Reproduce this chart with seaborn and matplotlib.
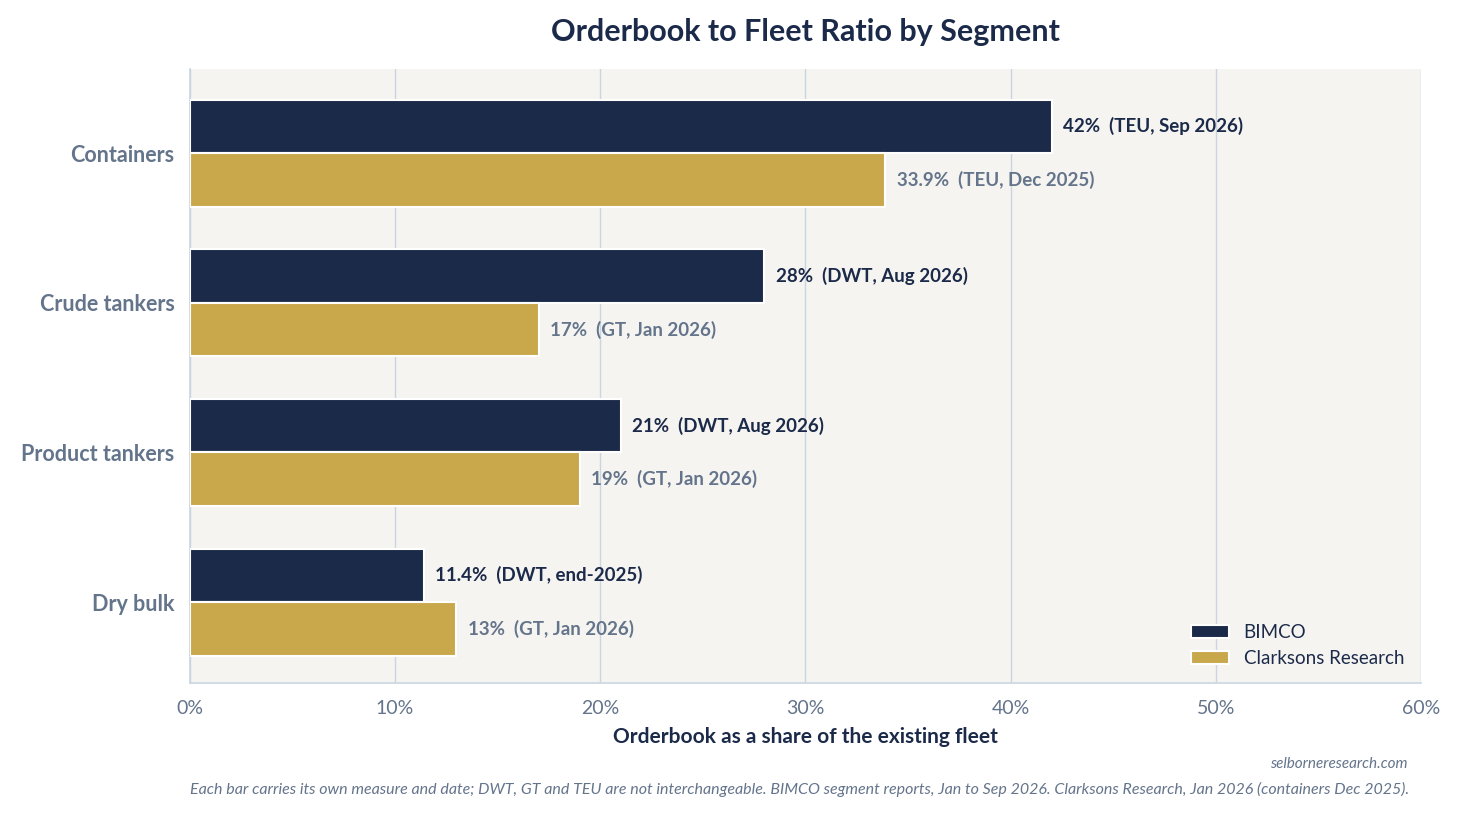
import pandas as pd
import matplotlib.pyplot as plt
import seaborn as sns

# chart values
segments = ['Containers', 'Crude tankers', 'Product tankers', 'Dry bulk']
bimco = [42, 28, 21, 11.4]
clarksons = [33.9, 17, 19, 13]
bimco_notes = ['TEU, Sep 2026', 'DWT, Aug 2026', 'DWT, Aug 2026', 'DWT, end-2025']
clarksons_notes = ['TEU, Dec 2025', 'GT, Jan 2026', 'GT, Jan 2026', 'GT, Jan 2026']
sources = ['BIMCO', 'Clarksons Research']
x_ticks = [0, 10, 20, 30, 40, 50, 60]

navy = '#1c2a4a'
gold = '#c9a84c'
grey = '#64748b'
line = '#cbd5e1'

df = pd.DataFrame({
    'Segment': segments * 2,
    'Share': bimco + clarksons,
    'Source': [sources[0]] * 4 + [sources[1]] * 4,
})

sns.set_style('white')
plt.rcParams['font.family'] = ['Lato', 'DejaVu Sans']

fig, ax = plt.subplots(figsize=(14.59, 8.14), dpi=100)
fig.subplots_adjust(left=0.13, right=0.974, top=0.915, bottom=0.161)
ax.set_facecolor('#f5f4f0')

sns.barplot(data=df, y='Segment', x='Share', hue='Source', orient='h',
            palette=[navy, gold], width=0.715, edgecolor='white', linewidth=1.5,
            saturation=1, ax=ax, zorder=3)

# value labels
def fmt(v):
    return f'{v:g}%'

ax.bar_label(ax.containers[0], labels=[f'{fmt(v)}  ({n})' for v, n in zip(bimco, bimco_notes)],
             padding=8.5, color=navy, fontsize=13.5, fontweight='bold')
ax.bar_label(ax.containers[1], labels=[f'{fmt(v)}  ({n})' for v, n in zip(clarksons, clarksons_notes)],
             padding=8.5, color=grey, fontsize=13.5, fontweight='bold')

ax.set_xlim(0, 60)
ax.set_ylim(3.54, -0.56)
ax.set_xticks(x_ticks)
ax.set_xticklabels([f'{t}%' for t in x_ticks], color=grey, fontsize=14)
ax.set_yticks(range(len(segments)))
ax.set_yticklabels(segments, color=grey, fontsize=15.5, fontweight='bold')
ax.tick_params(axis='both', length=5, color=line, width=1.2)
ax.tick_params(axis='y', pad=6)
ax.tick_params(axis='x', pad=7.5)

ax.xaxis.grid(True, color=line, linewidth=1, zorder=0)
ax.set_axisbelow(True)
sns.despine(ax=ax)
for s in ['left', 'bottom']:
    ax.spines[s].set_color(line)
    ax.spines[s].set_linewidth(1.2)

ax.set_ylabel('')
ax.set_xlabel('Orderbook as a share of the existing fleet', color=navy,
              fontsize=15, fontweight='bold', labelpad=7)
ax.set_title('Orderbook to Fleet Ratio by Segment', color=navy, fontsize=22,
             fontweight='bold', pad=20)

leg = ax.legend(loc='lower right', frameon=False, fontsize=13.5, handlelength=2.0,
                bbox_to_anchor=(1.0, -0.002))
for t in leg.get_texts():
    t.set_color(navy)

fig.text(0.965, 0.056, 'selborneresearch.com', ha='right', color=grey,
         fontsize=11, style='italic')
fig.text(0.13, 0.0245, 'Each bar carries its own measure and date; DWT, GT and TEU are not interchangeable. '
         'BIMCO segment reports, Jan to Sep 2026. Clarksons Research, Jan 2026 (containers Dec 2025).',
         ha='left', color=grey, fontsize=11.5, style='italic')

fig.savefig('out.png', dpi=100)
